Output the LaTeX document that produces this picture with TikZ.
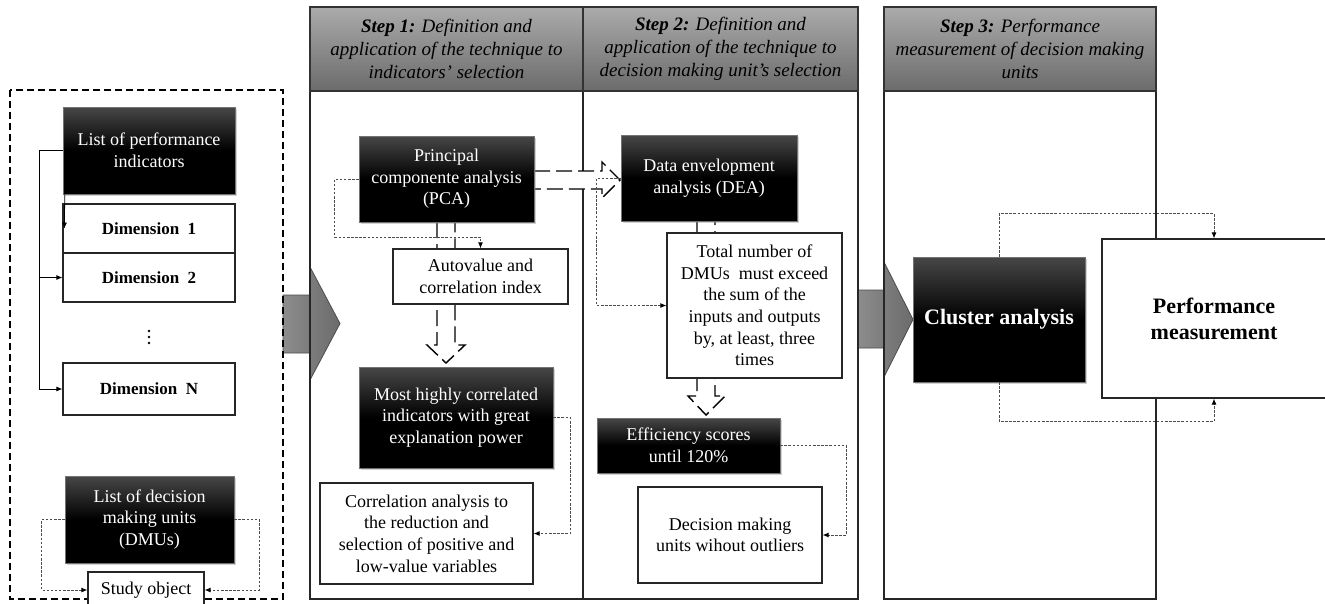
\documentclass[tikz,border=0pt]{standalone}
\usepackage{fontspec}
\setmainfont{Liberation Serif}
\usetikzlibrary{arrows.meta,shadows,calc}
\begin{document}
\begin{tikzpicture}[x=1pt,y=-1pt,
  base/.style={font=\fontsize{18}{21.6}\selectfont, align=center, inner sep=2pt},
  wbox/.style={base, draw=black!85, line width=1.2pt, fill=white},
  bbox/.style={base, text=white, draw=black!55, line width=0.5pt,
     top color=black!72, bottom color=black, middle color=black,
     drop shadow={opacity=0.35, shadow xshift=1.5pt, shadow yshift=-1.5pt}},
  dimbox/.style={wbox, font=\fontsize{17}{20}\selectfont\bfseries},
  hdr/.style={draw=black!80, line width=1.2pt, top color=black!33, bottom color=black!58,
     align=center, inner sep=2pt, font=\fontsize{19}{23}\selectfont\itshape},
  panel/.style={draw=black!85, line width=1.3pt},
  garrow/.style={draw=black!70, line width=0.8pt, left color=black!45, right color=black!58},
  darrow/.style={draw=black, line width=1.4pt, dash pattern=on 16pt off 6pt, fill=white},
  conn/.style={draw=black, line width=0.8pt, -{Latex[length=6pt,width=5pt]}},
  dotc/.style={draw=black!70, line width=0.9pt, dash pattern=on 2.5pt off 1.6pt,
     -{Latex[length=6pt,width=5pt]}, arrows={[black]}},
]
\useasboundingbox (0,0) rectangle (1325,603);
\clip (0,0) rectangle (1325,603);
\fill[white] (0,0) rectangle (1325,603);

% gray block arrows
\path[garrow] (283,295) -- (310,295) -- (310,267) -- (340,323.5) -- (310,380) -- (310,353) -- (283,353) -- cycle;
\path[garrow] (858,290) -- (884,290) -- (884,262) -- (913,319.5) -- (884,377) -- (884,348) -- (858,348) -- cycle;

% panels
\draw[panel] (310,7) rectangle (583,599);
\draw[panel] (583,7) rectangle (858,599);
\draw[panel] (884,7) rectangle (1156,599);
\node[hdr, minimum width=273pt, minimum height=84pt] (h1) at (446.5,49)
  {\textbf{Step 1:} Definition and\\application of the technique to\\indicators’ selection};
\node[hdr, minimum width=275pt, minimum height=84pt] (h2) at (720.5,49)
  {\textbf{Step 2:} Definition and\\application of the technique to\\decision making unit’s selection};
\node[hdr, minimum width=272pt, minimum height=84pt] (h3) at (1020,49)
  {\textbf{Step 3:} Performance\\measurement of decision making\\units};

% left dashed frame
\draw[line width=1.6pt, dash pattern=on 7pt off 4pt] (10,90) rectangle (283,599);

% dashed block arrows
\path[darrow] (534,171) -- (602,171) -- (602,162) -- (620,180) -- (602,198) -- (602,189) -- (534,189);
\path[darrow] (437,222) -- (437,345) -- (427,345) -- (446,363) -- (465,345) -- (455,345) -- (455,222);
\path[darrow] (697,221) -- (697,396) -- (688,396) -- (706,415) -- (725,396) -- (715,396) -- (715,221);

% left panel nodes
\node[bbox, minimum width=172pt, minimum height=87pt] (listpi) at (149,150.5) {List of performance\\indicators};
\node[dimbox, minimum width=172pt, minimum height=49pt] (dim1) at (149,228.5) {Dimension\ \ 1};
\node[dimbox, minimum width=172pt, minimum height=49pt] (dim2) at (149,277.5) {Dimension\ \ 2};
\node[inner sep=0pt, minimum width=4pt, minimum height=16pt] (dots) at (149,337) {};
\foreach \dy in {-6,0,6} \fill ($(dots.center)+(0,\dy)$) circle (1.3pt);
\node[dimbox, minimum width=172pt, minimum height=52pt] (dimN) at (149,389) {Dimension\ \ N};
\node[bbox, minimum width=169pt, minimum height=87pt] (listdmu) at (149.5,519.5) {List of decision\\making units\\(DMUs)};
\node[wbox, minimum width=116pt, minimum height=36pt] (study) at (146,590) {Study object};

% step 1 nodes
\node[bbox, minimum width=175pt, minimum height=86pt] (pca) at (446.5,179) {Principal\\componente analysis\\(PCA)};
\node[wbox, minimum width=175pt, minimum height=55pt] (auto) at (480.5,276.5) {Autovalue and\\correlation index};
\node[bbox, minimum width=194pt, minimum height=101pt] (most) at (456,417.5) {Most highly correlated\\indicators with great\\explanation power};
\node[wbox, minimum width=213pt, minimum height=101pt] (corr) at (426.5,533.5) {Correlation analysis to\\the reduction and\\selection of positive and\\low-value variables};

% step 2 nodes
\node[bbox, minimum width=176pt, minimum height=86pt] (dea) at (709,178) {Data envelopment\\analysis (DEA)};
\node[wbox, minimum width=175pt, minimum height=145pt] (total) at (754.5,305.5) {Total number of\\DMUs\ \ must exceed\\the sum of the\\inputs and outputs\\by, at least, three\\times};
\node[bbox, minimum width=183pt, minimum height=55pt] (eff) at (688.5,445.5) {Efficiency scores\\until 120\%};
\node[wbox, minimum width=184pt, minimum height=96pt] (dmuout) at (730,535) {Decision making\\units wihout outliers};

% step 3 nodes
\node[bbox, minimum width=172pt, minimum height=125pt, font=\fontsize{22}{26}\selectfont\bfseries] (cluster) at (999,319.5) {Cluster analysis};
\node[wbox, minimum width=224pt, minimum height=159pt, font=\fontsize{22}{26}\selectfont\bfseries] (perf) at (1214,318.5) {Performance\\measurement};

% solid connectors (left)
\coordinate (br) at (40,277.5);
\draw[conn] (listpi.west) -- ++(-23,0) |- (dimN.west);
\draw[conn] (br) -- (dim2.west);
\draw[conn] ([xshift=2pt]listpi.south west) -- ([xshift=2pt]dim1.west);

% dotted connectors
\draw[dotc] (listdmu.west) -- ++(-23,0) |- (study.west);
\draw[dotc] (listdmu.east) -- ++(25,0) |- (study.east);
\draw[dotc] (pca.west) -- ++(-24,0) -- ++(0,58) -| (auto.north);
\draw[dotc] (dea.west) -- ++(-24,0) |- (total.west);
\draw[dotc] (most.east) -- ++(17,0) |- (corr.east);
\draw[dotc] (eff.east) -- ++(66,0) |- (dmuout.east);
\draw[dotc] (cluster.north) -- ++(0,-43) -| (perf.north);
\draw[dotc] (cluster.south) -- ++(0,39) -| (perf.south);
\end{tikzpicture}
\end{document}
